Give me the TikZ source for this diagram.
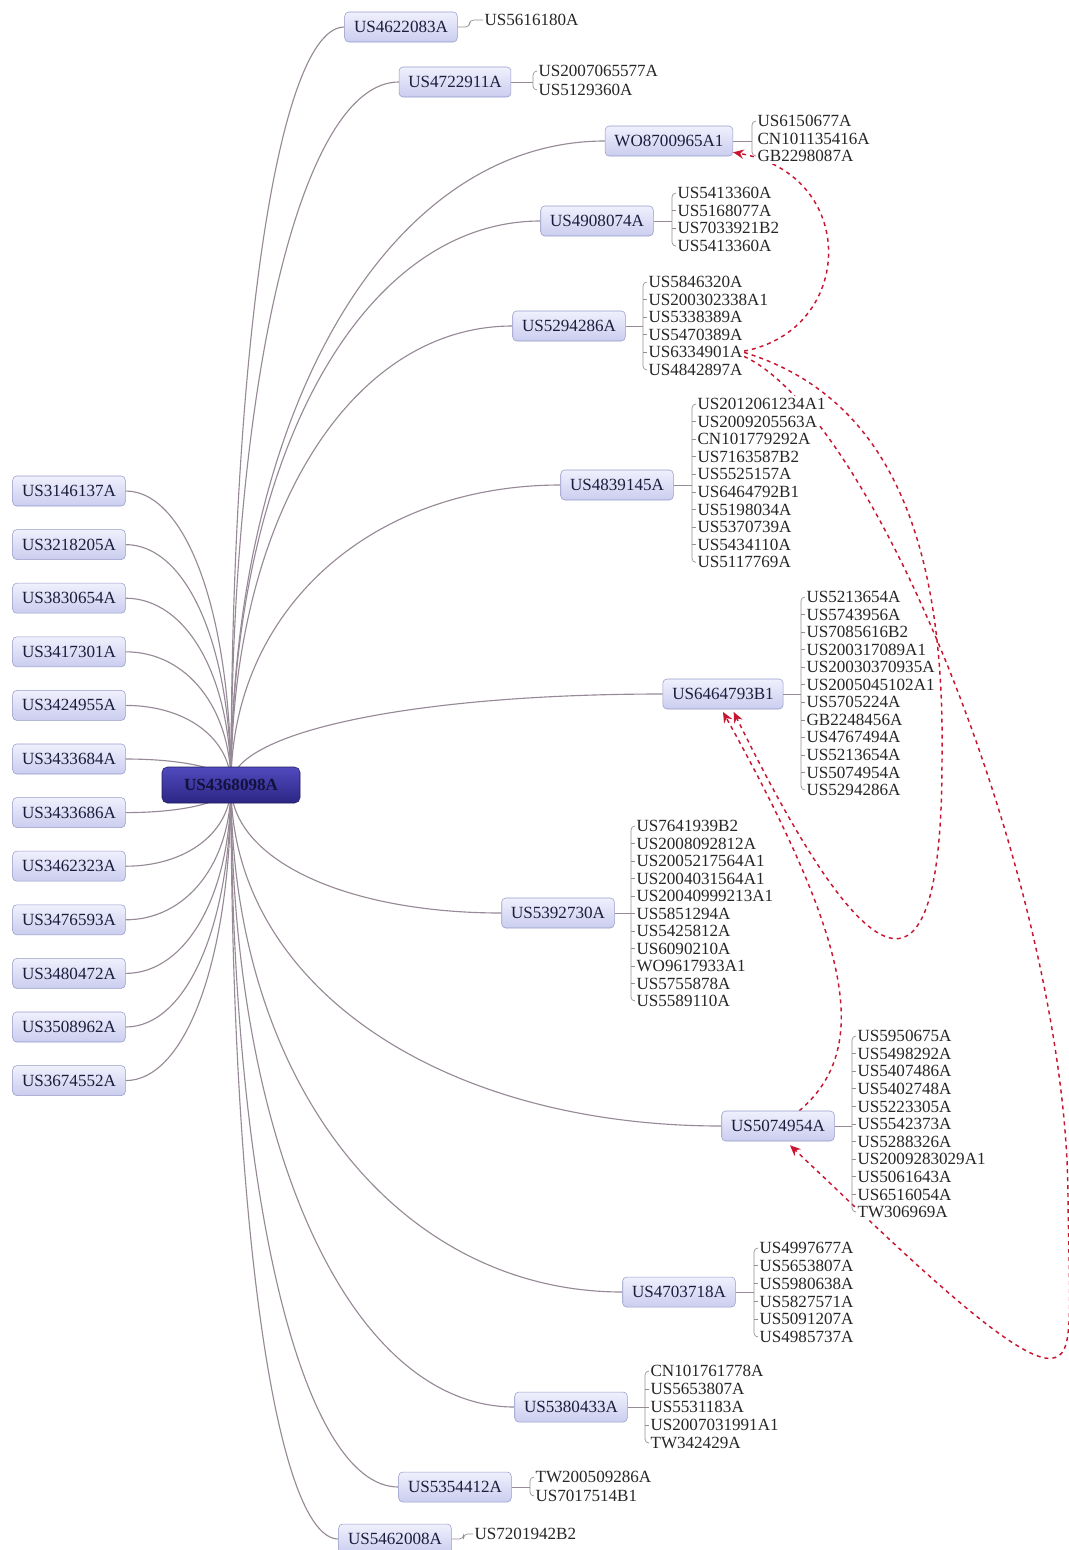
\documentclass[tikz,border=0pt]{standalone}
\usepackage{fontspec}
\setmainfont{Liberation Serif}
\usetikzlibrary{arrows.meta,backgrounds,calc}

\definecolor{boxtop}{RGB}{240,240,253}
\definecolor{boxbot}{RGB}{202,205,238}
\definecolor{boxline}{RGB}{150,154,200}
\definecolor{coretop}{RGB}{80,74,190}
\definecolor{corebot}{RGB}{44,38,132}
\definecolor{coreink}{RGB}{18,18,60}
\definecolor{ink}{RGB}{28,28,60}
\definecolor{linkgray}{RGB}{150,138,150}
\definecolor{citered}{RGB}{200,22,48}

\tikzset{
  patent/.style={draw=boxline, rounded corners=3pt, top color=boxtop, bottom color=boxbot,
    minimum height=22.5pt, inner xsep=7pt, text=ink, font=\fontsize{12.8}{13}\selectfont},
  root/.style={draw=corebot!70!black, rounded corners=4pt, top color=coretop, bottom color=corebot,
    minimum width=103.5pt, minimum height=27pt, text=coreink, font=\fontsize{12.8}{13}\selectfont\bfseries},
  cited/.style={anchor=west, fill=white, inner xsep=1pt, inner ysep=2pt, text=black!85,
    font=\fontsize{12.8}{13}\selectfont},
  link/.style={linkgray, line width=0.85pt},
  stub/.style={linkgray, line width=0.5pt, rounded corners=3pt},
  citing/.style={citered, dashed, line width=1.1pt, -{Stealth[length=8pt,width=7pt]}}
}

\begin{document}
\begin{tikzpicture}[x=0.75pt,y=-0.75pt]
\useasboundingbox (0,0) rectangle (1069,1550);

% the central patent
\node[root] (core) at (231,785) {US4368098A};

% cited on the left
\foreach \t [count=\i] in {US3146137A,US3218205A,US3830654A,US3417301A,US3424955A,US3433684A,
  US3433686A,US3462323A,US3476593A,US3480472A,US3508962A,US3674552A}
  \node[patent] (l\i) at (69,{491+53.6*(\i-1)}) {\t};

% citing on the right
\node[patent] (r1) at (401,27) {US4622083A};
\node[patent] (r2) at (455,82) {US4722911A};
\node[patent] (r3) at (669,141) {WO8700965A1};
\node[patent] (r4) at (597,221) {US4908074A};
\node[patent] (r5) at (569,326) {US5294286A};
\node[patent] (r6) at (617,485) {US4839145A};
\node[patent] (r7) at (723,694) {US6464793B1};
\node[patent] (r8) at (558,913) {US5392730A};
\node[patent] (r9) at (778,1126) {US5074954A};
\node[patent] (r10) at (679,1292) {US4703718A};
\node[patent] (r11) at (571,1407) {US5380433A};
\node[patent] (r12) at (455,1487) {US5354412A};
\node[patent] (r13) at (395,1539) {US5462008A};

% second generation lists
\node[cited] (r1-1) at (483,20) {US5616180A};
\draw[stub] (r1.east) -- ++(9pt,0) |- (r1-1.west);

\foreach \t [count=\i] in {US2007065577A,US5129360A}
  \node[cited] (r2-\i) at (537,{71+19*(\i-1)}) {\t};
\draw[stub] (r2.east) -- ([xshift=-3pt]r2.east -| r2-1.west);
\draw[stub] (r2-1.west) -- ++(-3pt,0) |- (r2-2.west);

\foreach \t [count=\i] in {US6150677A,CN101135416A,GB2298087A}
  \node[cited] (r3-\i) at (756,{121+17.5*(\i-1)}) {\t};
\draw[stub] (r3.east) -- ([xshift=-3pt]r3.east -| r3-1.west);
\draw[stub] (r3-1.west) -- ++(-3pt,0) |- (r3-3.west);

\foreach \t [count=\i] in {US5413360A,US5168077A,US7033921B2,US5413360A}
  \node[cited] (r4-\i) at (676,{193+17.7*(\i-1)}) {\t};
\draw[stub] (r4.east) -- ([xshift=-3pt]r4.east -| r4-1.west);
\draw[stub] (r4-1.west) -- ++(-3pt,0) |- (r4-4.west);
\foreach \i in {2,3} \draw[stub] (r4-\i.west) -- ++(-3pt,0);

\foreach \t [count=\i] in {US5846320A,US200302338A1,US5338389A,US5470389A,US6334901A,US4842897A}
  \node[cited] (r5-\i) at (647,{282+17.6*(\i-1)}) {\t};
\draw[stub] (r5.east) -- ([xshift=-3pt]r5.east -| r5-1.west);
\draw[stub] (r5-1.west) -- ++(-3pt,0) |- (r5-6.west);
\foreach \i in {2,...,5} \draw[stub] (r5-\i.west) -- ++(-3pt,0);

\foreach \t [count=\i] in {US2012061234A1,US2009205563A,CN101779292A,US7163587B2,US5525157A,
  US6464792B1,US5198034A,US5370739A,US5434110A,US5117769A}
  \node[cited] (r6-\i) at (696,{404+17.6*(\i-1)}) {\t};
\draw[stub] (r6.east) -- ([xshift=-3pt]r6.east -| r6-1.west);
\draw[stub] (r6-1.west) -- ++(-3pt,0) |- (r6-10.west);
\foreach \i in {2,...,9} \draw[stub] (r6-\i.west) -- ++(-3pt,0);

\foreach \t [count=\i] in {US5213654A,US5743956A,US7085616B2,US200317089A1,US20030370935A,
  US2005045102A1,US5705224A,GB2248456A,US4767494A,US5213654A,US5074954A,US5294286A}
  \node[cited] (r7-\i) at (805,{597+17.55*(\i-1)}) {\t};
\draw[stub] (r7.east) -- ([xshift=-3pt]r7.east -| r7-1.west);
\draw[stub] (r7-1.west) -- ++(-3pt,0) |- (r7-12.west);
\foreach \i in {2,...,11} \draw[stub] (r7-\i.west) -- ++(-3pt,0);

\foreach \t [count=\i] in {US7641939B2,US2008092812A,US2005217564A1,US2004031564A1,US20040999213A1,
  US5851294A,US5425812A,US6090210A,WO9617933A1,US5755878A,US5589110A}
  \node[cited] (r8-\i) at (635,{826+17.5*(\i-1)}) {\t};
\draw[stub] (r8.east) -- ([xshift=-3pt]r8.east -| r8-1.west);
\draw[stub] (r8-1.west) -- ++(-3pt,0) |- (r8-11.west);
\foreach \i in {2,...,10} \draw[stub] (r8-\i.west) -- ++(-3pt,0);

\foreach \t [count=\i] in {US5950675A,US5498292A,US5407486A,US5402748A,US5223305A,US5542373A,
  US5288326A,US2009283029A1,US5061643A,US6516054A,TW306969A}
  \node[cited] (r9-\i) at (856,{1036+17.6*(\i-1)}) {\t};
\draw[stub] (r9.east) -- ([xshift=-3pt]r9.east -| r9-1.west);
\draw[stub] (r9-1.west) -- ++(-3pt,0) |- (r9-11.west);
\foreach \i in {2,...,10} \draw[stub] (r9-\i.west) -- ++(-3pt,0);

\foreach \t [count=\i] in {US4997677A,US5653807A,US5980638A,US5827571A,US5091207A,US4985737A}
  \node[cited] (r10-\i) at (758,{1248+17.8*(\i-1)}) {\t};
\draw[stub] (r10.east) -- ([xshift=-3pt]r10.east -| r10-1.west);
\draw[stub] (r10-1.west) -- ++(-3pt,0) |- (r10-6.west);
\foreach \i in {2,...,5} \draw[stub] (r10-\i.west) -- ++(-3pt,0);

\foreach \t [count=\i] in {CN101761778A,US5653807A,US5531183A,US2007031991A1,TW342429A}
  \node[cited] (r11-\i) at (649,{1371+18*(\i-1)}) {\t};
\draw[stub] (r11.east) -- ([xshift=-3pt]r11.east -| r11-1.west);
\draw[stub] (r11-1.west) -- ++(-3pt,0) |- (r11-5.west);
\foreach \i in {2,...,4} \draw[stub] (r11-\i.west) -- ++(-3pt,0);

\foreach \t [count=\i] in {TW200509286A,US7017514B1}
  \node[cited] (r12-\i) at (534,{1477+19*(\i-1)}) {\t};
\draw[stub] (r12.east) -- ([xshift=-3pt]r12.east -| r12-1.west);
\draw[stub] (r12-1.west) -- ++(-3pt,0) |- (r12-2.west);

\node[cited] (r13-1) at (473,1534) {US7201942B2};
\draw[stub] (r13.east) -- ++(9pt,0) |- (r13-1.west);

\begin{scope}[on background layer]
% links to the central patent
\foreach \i in {1,...,12}
  \draw[link] (core.center) .. controls ($(core.center)!.58!(core.center |- l\i.east)$)
    and ($(l\i.east)!.58!(core.center |- l\i.east)$) .. (l\i.east);
\foreach \i in {1,...,13}
  \draw[link] (core.center) .. controls ($(core.center)!.58!(core.center |- r\i.west)$)
    and ($(r\i.west)!.58!(core.center |- r\i.west)$) .. (r\i.west);

% family citations
\draw[citing] ([yshift=1pt]r5-5.east) .. controls (855,330) and (860,175) .. ([yshift=3pt]r3.south east);
\draw[citing] (r5-5.east) .. controls (900,400) and (945,560) .. (942,760)
  .. controls (942,1000) and (880,1010) .. ([xshift=8pt,yshift=-2pt]r7.south);
\draw[citing] ([yshift=-3pt]r5-5.east) .. controls (880,420) and (1068,900) .. (1068,1200)
  .. controls (1070,1330) and (1075,1362) .. (1045,1358)
  .. controls (1000,1350) and (880,1230) .. ([xshift=9pt,yshift=-3pt]r9.south);
\draw[citing] ([xshift=16pt]r9.north) .. controls (870,1050) and (855,950) .. ([yshift=-2pt]r7.south);
\end{scope}

\end{tikzpicture}
\end{document}
